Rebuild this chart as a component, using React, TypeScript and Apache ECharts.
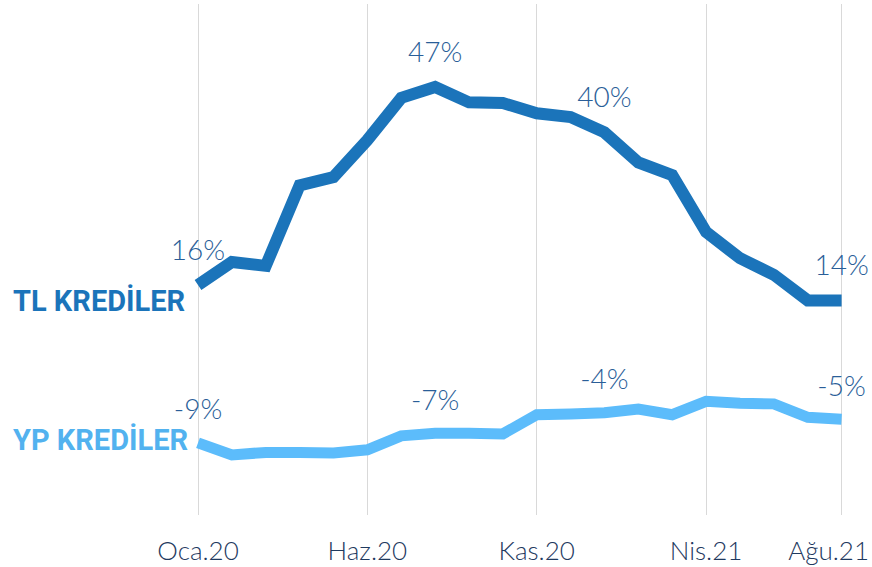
import React, { useEffect, useRef } from "react";
import * as echarts from "echarts";

const months = [
  "Oca.20", "Şub.20", "Mar.20", "Nis.20", "May.20", "Haz.20", "Tem.20", "Ağu.20", "Eyl.20", "Eki.20",
  "Kas.20", "Ara.20", "Oca.21", "Şub.21", "Mar.21", "Nis.21", "May.21", "Haz.21", "Tem.21", "Ağu.21",
];
const shownTicks = [0, 5, 10, 15, 19];

const tlValues = [16.0, 19.6, 19.0, 31.6, 32.9, 38.7, 45.3, 47.0, 44.6, 44.5, 42.9, 42.3, 39.9, 35.2, 33.2, 24.3, 20.2, 17.6, 13.6, 13.6];
const ypValues = [-8.7, -10.6, -10.2, -10.2, -10.3, -9.8, -7.6, -7.2, -7.2, -7.3, -4.3, -4.2, -4.0, -3.4, -4.3, -2.2, -2.5, -2.6, -4.7, -5.0];

const tlLabels = ["16%", "", "", "", "", "", "", "47%", "", "", "", "", "40%", "", "", "", "", "", "", "14%"];
const ypLabels = ["-9%", "", "", "", "", "", "", "-7%", "", "", "", "", "-4%", "", "", "", "", "", "", "-5%"];

const TL_COLOR = "#1b74ba";
const YP_COLOR = "#5cbcfb";
const LABEL_COLOR = "#2a5e98";
const AXIS_COLOR = "#1f3a5f";
const FONT = "Roboto, 'Noto Sans', sans-serif";
const LIGHT_FONT = "Lato, Roboto, sans-serif";

export default function App() {
  const ref = useRef<HTMLDivElement>(null);
  useEffect(() => {
    if (!ref.current) return;
    const chart = echarts.init(ref.current, undefined, { renderer: "svg" });
    const labelStyle = {
      show: true,
      position: "top" as const,
      distance: 22,
      fontSize: 28,
      fontWeight: 300,
      fontFamily: LIGHT_FONT,
      color: LABEL_COLOR,
    };
    chart.setOption({
      animation: false,
      grid: { left: 198, right: 30, top: 4, bottom: 52 },
      xAxis: {
        type: "category",
        data: months,
        boundaryGap: false,
        axisLine: { show: false },
        axisTick: { show: false },
        axisLabel: {
          interval: (i: number) => shownTicks.includes(i),
          margin: 22,
          fontSize: 26,
          fontWeight: 300,
          fontFamily: LIGHT_FONT,
          color: AXIS_COLOR,
          formatter: (v: string, i: number) => (i === months.length - 1 ? `{last|${v}}` : v),
          rich: {
            last: {
              fontSize: 26,
              fontWeight: 300,
              fontFamily: LIGHT_FONT,
              color: AXIS_COLOR,
              padding: [0, 26, 0, 0],
            },
          },
        },
        splitLine: {
          show: true,
          interval: (i: number) => shownTicks.includes(i),
          lineStyle: { color: "#d9d9d9", width: 1 },
        },
      },
      yAxis: {
        type: "value",
        min: -20,
        max: 60,
        show: false,
        splitLine: { show: false },
      },
      series: [
        {
          name: "TL KREDİLER",
          type: "line",
          data: tlValues,
          symbol: "circle",
          symbolSize: 1,
          showSymbol: true,
          itemStyle: { color: "rgba(0,0,0,0)" },
          lineStyle: { color: TL_COLOR, width: 12, cap: "butt", join: "miter" },
          label: { ...labelStyle, formatter: (p: any) => tlLabels[p.dataIndex] },
          labelLayout: { hideOverlap: false },
        },
        {
          name: "YP KREDİLER",
          type: "line",
          data: ypValues,
          symbol: "circle",
          symbolSize: 1,
          showSymbol: true,
          itemStyle: { color: "rgba(0,0,0,0)" },
          lineStyle: { color: YP_COLOR, width: 11, cap: "butt", join: "miter" },
          label: { ...labelStyle, distance: 20, formatter: (p: any) => ypLabels[p.dataIndex] },
        },
      ],
      graphic: [
        {
          type: "text",
          left: 13,
          top: 286,
          style: {
            text: "TL KREDİLER",
            fontSize: 29,
            fontWeight: "bold",
            fontFamily: FONT,
            fill: TL_COLOR,
          },
        },
        {
          type: "text",
          left: 13,
          top: 425,
          style: {
            text: "YP KREDİLER",
            fontSize: 29,
            fontWeight: "bold",
            fontFamily: FONT,
            fill: "#52b2ef",
          },
        },
      ],
    });
    return () => chart.dispose();
  }, []);
  return (
    <div
      ref={ref}
      style={{ position: "fixed", left: 0, top: 0, width: 872, height: 567, background: "#fff" }}
    />
  );
}
